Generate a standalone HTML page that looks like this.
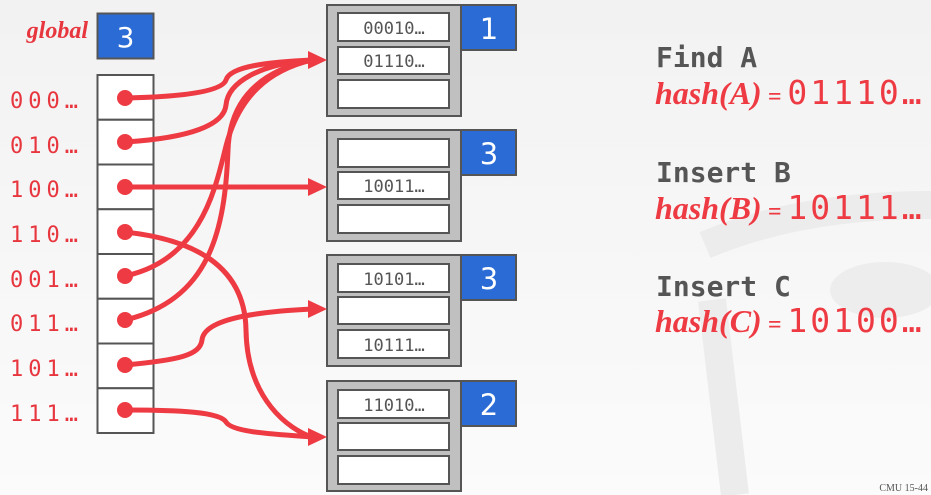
<!DOCTYPE html>
<html><head><meta charset="utf-8"><style>
html,body{margin:0;padding:0;}
body{width:931px;height:495px;overflow:hidden;background:linear-gradient(#f2f2f2,#fbfbfb);position:relative;font-family:"Liberation Sans",sans-serif;}
svg{position:absolute;left:0;top:0;}
</style></head><body>
<svg width="931" height="495" viewBox="0 0 931 495">
<g fill="none" stroke="#ececec" stroke-width="28">
<path d="M705 245 Q800 205 931 205"/>
<path d="M712 300 L735 495"/>
</g>
<ellipse cx="885" cy="290" rx="55" ry="28" fill="#ededed"/>
<text x="88" y="38" text-anchor="end" font-family="Liberation Serif,serif" font-style="italic" font-weight="bold" font-size="24" fill="#e8363f">global</text>
<rect x="97.5" y="13.5" width="56" height="45" fill="#2b6bd6" stroke="#555" stroke-width="2"/>
<text x="125.5" y="47" text-anchor="middle" font-size="28" fill="#fff" font-family="DejaVu Sans,sans-serif">3</text>
<g font-family="DejaVu Sans Mono,monospace" font-size="22" fill="#e8363f" letter-spacing="5">
<text x="10" y="108">000…</text><text x="10" y="153">010…</text><text x="10" y="197">100…</text><text x="10" y="242">110…</text>
<text x="10" y="287">001…</text><text x="10" y="331">011…</text><text x="10" y="376">101…</text><text x="10" y="421">111…</text>
</g>
<g fill="#fff" stroke="#555" stroke-width="2">
<rect x="97.5" y="75" width="56" height="44.75"/><rect x="97.5" y="119.75" width="56" height="44.75"/>
<rect x="97.5" y="164.5" width="56" height="44.75"/><rect x="97.5" y="209.25" width="56" height="44.75"/>
<rect x="97.5" y="254" width="56" height="44.75"/><rect x="97.5" y="298.75" width="56" height="44.75"/>
<rect x="97.5" y="343.5" width="56" height="44.75"/><rect x="97.5" y="388.25" width="56" height="44.75"/>
</g>
<g stroke="#555" stroke-width="2">
<rect x="327" y="5" width="134" height="111" fill="#c0c0c0"/>
<rect x="327" y="130" width="134" height="111" fill="#c0c0c0"/>
<rect x="327" y="255" width="134" height="111" fill="#c0c0c0"/>
<rect x="327" y="381" width="134" height="110" fill="#c0c0c0"/>
<rect x="461" y="5" width="55" height="45" fill="#2b6bd6"/>
<rect x="461" y="130" width="55" height="45" fill="#2b6bd6"/>
<rect x="461" y="255" width="55" height="45" fill="#2b6bd6"/>
<rect x="461" y="381" width="55" height="45" fill="#2b6bd6"/>
<g fill="#fff">
<rect x="338" y="13" width="111" height="28"/><rect x="338" y="47" width="111" height="27"/><rect x="338" y="80" width="111" height="28"/>
<rect x="338" y="139" width="111" height="28"/><rect x="338" y="172" width="111" height="27"/><rect x="338" y="205" width="111" height="28"/>
<rect x="338" y="264" width="111" height="28"/><rect x="338" y="297" width="111" height="27"/><rect x="338" y="330" width="111" height="28"/>
<rect x="338" y="390" width="111" height="28"/><rect x="338" y="423" width="111" height="27"/><rect x="338" y="456" width="111" height="28"/>
</g></g>
<g font-family="DejaVu Sans,sans-serif" font-size="29" fill="#fff" text-anchor="middle">
<text x="489" y="39">1</text><text x="489" y="164">3</text><text x="489" y="289">3</text><text x="489" y="415">2</text>
</g>
<g font-family="DejaVu Sans Mono,monospace" font-size="17" fill="#555" text-anchor="middle">
<text x="394" y="34">00010…</text><text x="394" y="67">01110…</text>
<text x="394" y="192">10011…</text>
<text x="394" y="285">10101…</text><text x="394" y="351">10111…</text>
<text x="394" y="411">11010…</text>
</g>
<g fill="none" stroke="#ee3a42" stroke-width="5">
<path d="M125 98 C180 97 222 92 226 80 C230 66 270 62 312 60"/>
<path d="M125 142 C190 138 224 125 226 105 C228 82 260 64 312 60"/>
<path d="M125 187 L312 187"/>
<path d="M125 276 C200 260 215 190 225 150 C238 95 270 70 312 60"/>
<path d="M125 320 C210 300 225 230 228 150 C230 95 265 70 312 60"/>
<path d="M125 365 C180 360 200 355 202 340 C204 320 250 312 312 309"/>
<path d="M125 410 C180 410 220 412 226 422 C232 432 270 434 312 437"/>
<path d="M125 232 C200 240 245 270 246 330 C247 400 290 430 312 437"/>
</g>
<g fill="#ee3a42">
<circle cx="125" cy="98" r="8"/><circle cx="125" cy="142" r="8"/><circle cx="125" cy="187" r="8"/><circle cx="125" cy="232" r="8"/>
<circle cx="125" cy="276" r="8"/><circle cx="125" cy="320" r="8"/><circle cx="125" cy="365" r="8"/><circle cx="125" cy="410" r="8"/>
<polygon points="327,60 308,51 308,69"/><polygon points="327,187 308,178 308,196"/>
<polygon points="327,309 308,300 308,318"/><polygon points="327,437 308,428 308,446"/>
</g>
<g font-family="DejaVu Sans Mono,monospace" font-weight="bold" font-size="28" fill="#555">
<text x="656" y="67">Find A</text><text x="656" y="182">Insert B</text><text x="656" y="296">Insert C</text>
</g>
<g fill="#ee3a42">
<text x="655" y="104" font-family="Liberation Serif,serif" font-style="italic" font-weight="bold" font-size="32">hash(A)<tspan font-size="24"> = </tspan><tspan font-family="DejaVu Sans Mono,monospace" font-style="normal" font-weight="normal" font-size="33" letter-spacing="3">01110…</tspan></text>
<text x="655" y="219" font-family="Liberation Serif,serif" font-style="italic" font-weight="bold" font-size="32">hash(B)<tspan font-size="24"> = </tspan><tspan font-family="DejaVu Sans Mono,monospace" font-style="normal" font-weight="normal" font-size="33" letter-spacing="3">10111…</tspan></text>
<text x="655" y="332" font-family="Liberation Serif,serif" font-style="italic" font-weight="bold" font-size="32">hash(C)<tspan font-size="24"> = </tspan><tspan font-family="DejaVu Sans Mono,monospace" font-style="normal" font-weight="normal" font-size="33" letter-spacing="3">10100…</tspan></text>
</g>
<text x="928" y="491" text-anchor="end" font-family="Liberation Serif,serif" font-size="10" fill="#555">CMU 15-44</text>
</svg>
</body></html>
